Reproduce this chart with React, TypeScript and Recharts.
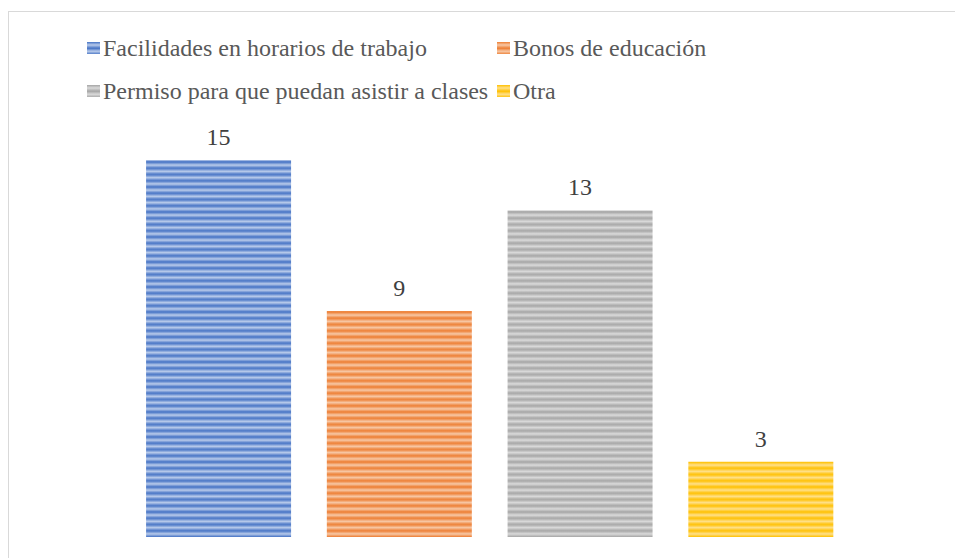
import React from "react";
import { BarChart, Bar, XAxis, YAxis, Cell, LabelList } from "recharts";

const categories = [
  "Facilidades en horarios de trabajo",
  "Bonos de educación",
  "Permiso para que puedan asistir a clases",
  "Otra",
];
const values = [15, 9, 13, 3];
const colors = ["#4472C4", "#ED7D31", "#A5A5A5", "#FFC000"];
const lightColors = ["#B9CBEB", "#F7C8A6", "#DADADA", "#FFE08A"];

// legend grid: [column, row] for each category
const legendCols = [0, 1, 0, 1];
const legendRows = [0, 0, 1, 1];

const data = categories.map((name, i) => ({ name, value: values[i] }));

const FONT = '"Liberation Serif", Tinos, "Times New Roman", "Noto Serif", "DejaVu Serif", serif';

function stripes(i: number) {
  return `repeating-linear-gradient(180deg, ${colors[i]} 0px, ${lightColors[i]} 3px, ${colors[i]} 6.25px)`;
}

export default function App() {
  return (
    <div
      style={{
        position: "fixed",
        left: 8,
        top: 11,
        width: 946,
        height: 546,
        borderTop: "1px solid #d9d9d9",
        borderLeft: "1px solid #d9d9d9",
        background: "#fff",
        fontFamily: FONT,
      }}
    >
      <BarChart
        width={946}
        height={546}
        data={data}
        margin={{ top: 123, right: 104, bottom: 21, left: 119 }}
        barCategoryGap="10%"
        style={{ fontFamily: FONT }}
      >
        <defs>
          {colors.map((c, i) => (
            <linearGradient key={"g" + i} id={"grad" + i} x1="0" y1="0" x2="0" y2="1">
              <stop offset="0" stopColor={c} />
              <stop offset="0.5" stopColor={lightColors[i]} />
              <stop offset="1" stopColor={c} />
            </linearGradient>
          ))}
          {colors.map((c, i) => (
            <pattern
              key={"p" + i}
              id={"pat" + i}
              patternUnits="userSpaceOnUse"
              width={8}
              height={6.25}
            >
              <rect x={0} y={0} width={8} height={6.25} fill={`url(#grad${i})`} />
            </pattern>
          ))}
        </defs>
        <XAxis dataKey="name" hide />
        <YAxis hide domain={[0, 16]} />
        <Bar dataKey="value" isAnimationActive={false}>
          {data.map((d, i) => (
            <Cell key={d.name} fill={`url(#pat${i})`} />
          ))}
          <LabelList
            dataKey="value"
            position="top"
            offset={15}
            style={{ fill: "#404040", fontFamily: FONT, fontSize: 24 }}
          />
        </Bar>
      </BarChart>
      {categories.map((name, i) => (
        <div
          key={name}
          style={{
            position: "absolute",
            left: legendCols[i] === 0 ? 78 : 488,
            top: (legendRows[i] === 0 ? 36 : 79) - 16,
            height: 32,
            display: "flex",
            alignItems: "center",
            whiteSpace: "nowrap",
            fontSize: 24,
            fontFamily: FONT,
            color: "#595959",
          }}
        >
          <span
            style={{
              display: "inline-block",
              width: 13,
              height: 12,
              background: stripes(i),
              marginRight: 3,
            }}
          />
          <span>{name}</span>
        </div>
      ))}
    </div>
  );
}
